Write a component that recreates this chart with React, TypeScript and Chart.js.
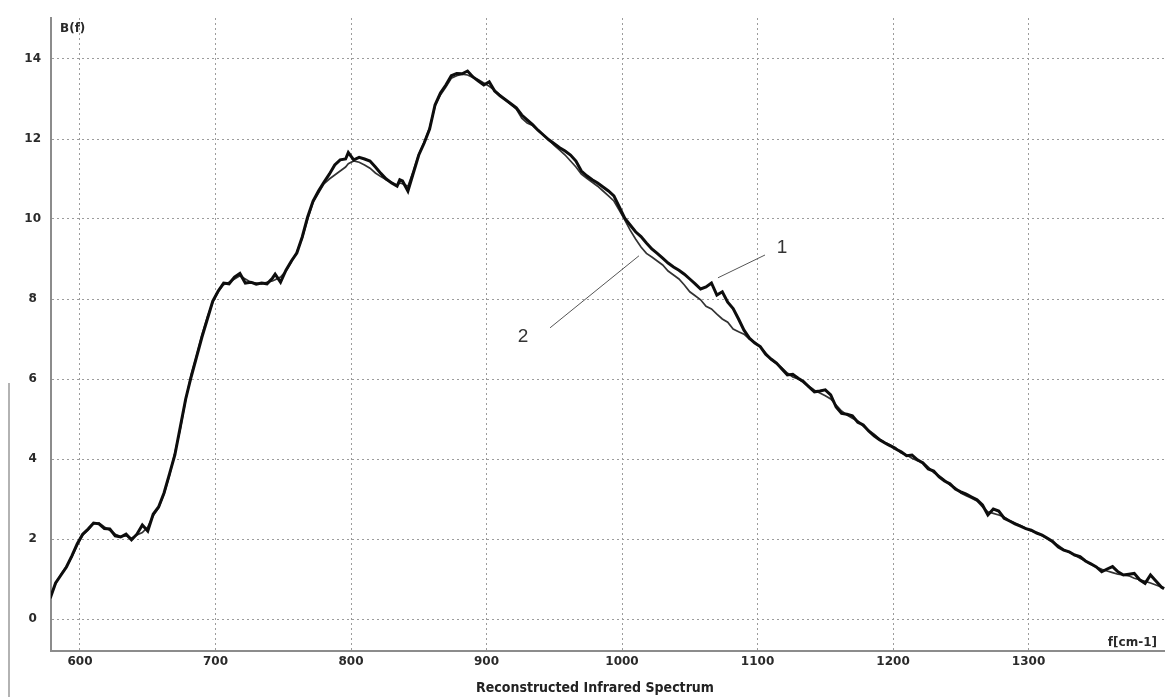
import React, { useEffect, useRef } from 'react';
import { Chart, registerables } from 'chart.js';

Chart.register(...registerables);

// wavenumber f [cm-1]
const wavenumbers = [
  578, 582, 586, 590, 594, 598, 602, 606, 610, 614, 618, 622, 626, 630, 634, 638, 642, 646, 650, 654,
  658, 662, 666, 670, 674, 678, 682, 686, 690, 694, 698, 702, 706, 710, 714, 718, 722, 726, 730, 734,
  738, 742, 744, 748, 752, 756, 760, 764, 768, 772, 776, 780, 784, 788, 792, 796, 798, 802, 806, 810,
  814, 818, 822, 826, 830, 834, 836, 838, 842, 846, 850, 854, 858, 862, 866, 870, 874, 878, 882, 886,
  890, 894, 898, 902, 906, 910, 914, 918, 922, 926, 930, 934, 938, 942, 946, 950, 954, 958, 962, 966,
  970, 974, 978, 982, 986, 990, 994, 998, 1002, 1006, 1010, 1014, 1018, 1022, 1026, 1030, 1034, 1038, 1042, 1046,
  1050, 1054, 1058, 1062, 1066, 1070, 1074, 1078, 1082, 1086, 1090, 1094, 1098, 1102, 1106, 1110, 1114, 1118, 1122, 1126,
  1130, 1134, 1138, 1142, 1146, 1150, 1154, 1158, 1162, 1166, 1170, 1174, 1178, 1182, 1186, 1190, 1194, 1198, 1202, 1206,
  1210, 1214, 1218, 1222, 1226, 1230, 1234, 1238, 1242, 1246, 1250, 1254, 1258, 1262, 1266, 1270, 1274, 1278, 1282, 1286,
  1290, 1294, 1298, 1302, 1306, 1310, 1314, 1318, 1322, 1326, 1330, 1334, 1338, 1342, 1346, 1350, 1354, 1358, 1362, 1366,
  1370, 1374, 1378, 1382, 1386, 1390, 1394, 1398, 1400,
];

// curve 1: measured spectrum B(f)
const measured = [
  0.52, 0.90, 1.10, 1.30, 1.58, 1.88, 2.12, 2.25, 2.40, 2.38, 2.26, 2.25, 2.08, 2.05, 2.12, 1.98, 2.12, 2.35, 2.20, 2.62,
  2.80, 3.15, 3.62, 4.10, 4.80, 5.50, 6.05, 6.55, 7.05, 7.50, 7.95, 8.20, 8.40, 8.38, 8.55, 8.64, 8.40, 8.42, 8.37, 8.40,
  8.38, 8.52, 8.62, 8.42, 8.72, 8.95, 9.15, 9.55, 10.05, 10.45, 10.70, 10.92, 11.12, 11.35, 11.48, 11.50, 11.66, 11.48, 11.54, 11.50,
  11.45, 11.30, 11.14, 11.00, 10.90, 10.82, 10.98, 10.95, 10.70, 11.15, 11.60, 11.90, 12.25, 12.85, 13.15, 13.35, 13.58, 13.64, 13.63, 13.70,
  13.55, 13.45, 13.35, 13.43, 13.20, 13.08, 12.98, 12.88, 12.78, 12.60, 12.48, 12.36, 12.22, 12.10, 11.98, 11.88, 11.78, 11.70, 11.60, 11.45,
  11.20, 11.08, 10.98, 10.90, 10.80, 10.70, 10.58, 10.30, 10.02, 9.85, 9.68, 9.56, 9.40, 9.25, 9.14, 9.02, 8.90, 8.80, 8.72, 8.62,
  8.50, 8.38, 8.25, 8.30, 8.40, 8.10, 8.18, 7.92, 7.76, 7.50, 7.22, 7.02, 6.90, 6.81, 6.62, 6.50, 6.40, 6.25, 6.10, 6.12,
  6.02, 5.93, 5.80, 5.68, 5.70, 5.73, 5.60, 5.30, 5.14, 5.12, 5.08, 4.92, 4.85, 4.70, 4.58, 4.48, 4.40, 4.33, 4.25, 4.18,
  4.08, 4.10, 3.98, 3.90, 3.75, 3.70, 3.55, 3.45, 3.38, 3.25, 3.18, 3.12, 3.05, 2.98, 2.85, 2.60, 2.75, 2.70, 2.52, 2.45,
  2.38, 2.32, 2.26, 2.22, 2.15, 2.10, 2.02, 1.93, 1.80, 1.72, 1.68, 1.60, 1.56, 1.45, 1.38, 1.30, 1.18, 1.25, 1.31, 1.18,
  1.10, 1.12, 1.14, 0.98, 0.89, 1.10, 0.95, 0.80, 0.76,
];

// curve 2: reconstructed spectrum
const reconstructed = [
  0.55, 0.88, 1.12, 1.32, 1.55, 1.85, 2.10, 2.22, 2.38, 2.40, 2.30, 2.22, 2.12, 2.06, 2.08, 2.02, 2.10, 2.16, 2.30, 2.58,
  2.78, 3.12, 3.58, 4.15, 4.75, 5.48, 6.10, 6.58, 7.10, 7.55, 7.92, 8.18, 8.36, 8.42, 8.50, 8.58, 8.50, 8.42, 8.40, 8.38,
  8.42, 8.45, 8.48, 8.55, 8.70, 8.92, 9.18, 9.52, 10.00, 10.42, 10.65, 10.88, 11.00, 11.10, 11.20, 11.30, 11.38, 11.45, 11.42, 11.35,
  11.27, 11.15, 11.06, 10.98, 10.92, 10.85, 10.90, 10.88, 10.82, 11.20, 11.62, 11.92, 12.28, 12.82, 13.10, 13.30, 13.52, 13.58, 13.62, 13.60,
  13.54, 13.48, 13.40, 13.32, 13.22, 13.10, 12.98, 12.86, 12.75, 12.52, 12.40, 12.34, 12.22, 12.10, 11.98, 11.84, 11.72, 11.60, 11.45, 11.30,
  11.12, 11.02, 10.92, 10.82, 10.70, 10.58, 10.45, 10.22, 9.98, 9.72, 9.50, 9.30, 9.14, 9.05, 8.95, 8.85, 8.70, 8.60, 8.50, 8.35,
  8.18, 8.08, 7.98, 7.82, 7.75, 7.62, 7.50, 7.42, 7.25, 7.18, 7.12, 7.00, 6.92, 6.80, 6.65, 6.48, 6.38, 6.28, 6.15, 6.05,
  6.00, 5.92, 5.82, 5.72, 5.65, 5.58, 5.50, 5.35, 5.20, 5.10, 5.02, 4.95, 4.82, 4.72, 4.62, 4.50, 4.42, 4.35, 4.28, 4.15,
  4.10, 4.02, 3.96, 3.92, 3.80, 3.66, 3.58, 3.48, 3.35, 3.28, 3.15, 3.08, 3.02, 2.95, 2.80, 2.68, 2.64, 2.60, 2.55, 2.46,
  2.40, 2.34, 2.27, 2.20, 2.16, 2.08, 2.00, 1.92, 1.84, 1.74, 1.66, 1.60, 1.52, 1.45, 1.36, 1.30, 1.24, 1.20, 1.16, 1.12,
  1.10, 1.08, 1.02, 0.98, 0.94, 0.90, 0.85, 0.80, 0.76,
];

const xTickValues = [600, 700, 800, 900, 1000, 1100, 1200, 1300];
const yTickValues = [0, 2, 4, 6, 8, 10, 12, 14];

const curveNames = ['1', '2'];
const chartTitle = 'Reconstructed Infrared Spectrum';

// annotation placement (data units): label position, leader line start and end
const curveLabelAt = [
  { x: 1118, y: 9.28 },
  { x: 927, y: 7.05 },
];
const leaderFrom = [
  { x: 1105.5, y: 9.1 },
  { x: 946.9, y: 7.28 },
];
const leaderTo = [
  { x: 1070.8, y: 8.53 },
  { x: 1012.5, y: 9.08 },
];

const TEXT = '#2a2a2a';
const BOLD12 = "bold 12px 'DejaVu Sans', sans-serif";

const overlayPlugin = {
  id: 'overlay',
  afterDatasetsDraw(chart: any) {
    const { ctx, chartArea, scales } = chart;
    const xs = scales.x;
    const ys = scales.y;
    ctx.save();
    // leader lines + curve numbers
    ctx.strokeStyle = '#555';
    ctx.lineWidth = 1;
    for (let i = 0; i < curveNames.length; i++) {
      ctx.beginPath();
      ctx.moveTo(xs.getPixelForValue(leaderFrom[i].x), ys.getPixelForValue(leaderFrom[i].y));
      ctx.lineTo(xs.getPixelForValue(leaderTo[i].x), ys.getPixelForValue(leaderTo[i].y));
      ctx.stroke();
      ctx.fillStyle = '#333';
      ctx.font = "19px 'Liberation Sans', Arial, sans-serif";
      ctx.textAlign = 'center';
      ctx.textBaseline = 'middle';
      ctx.fillText(
        curveNames[i],
        xs.getPixelForValue(curveLabelAt[i].x),
        ys.getPixelForValue(curveLabelAt[i].y)
      );
    }
    // axis names
    ctx.fillStyle = TEXT;
    ctx.font = BOLD12;
    ctx.textAlign = 'left';
    ctx.textBaseline = 'middle';
    ctx.fillText('B(f)', chartArea.left + 9, chartArea.top + 11);
    ctx.textAlign = 'right';
    ctx.fillText('f[cm-1]', chartArea.right - 8, chartArea.bottom - 8);
    // bottom caption
    ctx.fillStyle = '#222';
    ctx.font = "bold 14px 'DejaVu Sans Condensed', 'DejaVu Sans', sans-serif";
    ctx.textAlign = 'center';
    ctx.textBaseline = 'middle';
    ctx.fillText(chartTitle, (chartArea.left + chartArea.right) / 2 - 13, chart.height - 9);
    // stray frame line at the far left
    ctx.strokeStyle = '#9a9a9a';
    ctx.lineWidth = 1.5;
    ctx.beginPath();
    ctx.moveTo(9, 383);
    ctx.lineTo(9, chart.height);
    ctx.stroke();
    ctx.restore();
  },
};

const tickFont = { family: "'DejaVu Sans', sans-serif", size: 12, weight: 'bold' };

export default function App() {
  const canvasRef = useRef<HTMLCanvasElement | null>(null);

  useEffect(() => {
    document.body.style.margin = '0';
    const canvas = canvasRef.current;
    if (!canvas) return;
    const chart = new Chart(canvas, {
      type: 'line',
      data: {
        datasets: [
          {
            label: 'measured',
            data: wavenumbers.map((f, i) => ({ x: f, y: measured[i] })),
            borderColor: '#0d0d0d',
            borderWidth: 3,
            pointRadius: 0,
            tension: 0,
            fill: false,
          },
          {
            label: 'reconstructed',
            data: wavenumbers.map((f, i) => ({ x: f, y: reconstructed[i] })),
            borderColor: '#333333',
            borderWidth: 1.7,
            pointRadius: 0,
            tension: 0,
            fill: false,
          },
        ],
      },
      options: {
        animation: false,
        responsive: false,
        maintainAspectRatio: false,
        layout: { padding: { top: 18, right: 0, left: 0, bottom: 0 } },
        plugins: {
          legend: { display: false },
          tooltip: { enabled: false },
          title: { display: false },
        },
        scales: {
          x: {
            type: 'linear',
            min: 578.6,
            max: 1400.7,
            afterBuildTicks: (scale: any) => {
              scale.ticks = xTickValues.map((v) => ({ value: v }));
            },
            afterFit: (scale: any) => {
              scale.height = 46;
            },
            grid: {
              color: '#9c9c9c',
              lineWidth: 1,
              drawTicks: false,
            },
            border: { display: true, color: '#8c8c8c', width: 2, dash: [2, 3] },
            ticks: {
              color: TEXT,
              font: tickFont,
              padding: 4,
              maxRotation: 0,
              autoSkip: false,
              callback: (v: any) => String(v),
            },
            title: { display: false },
          },
          y: {
            type: 'linear',
            min: -0.8,
            max: 15.025,
            afterBuildTicks: (scale: any) => {
              scale.ticks = yTickValues.map((v) => ({ value: v }));
            },
            afterFit: (scale: any) => {
              scale.width = 51;
            },
            grid: {
              color: '#9c9c9c',
              lineWidth: 1,
              drawTicks: false,
            },
            border: { display: true, color: '#8c8c8c', width: 2, dash: [2, 3] },
            ticks: {
              color: TEXT,
              font: tickFont,
              padding: 10,
              crossAlign: 'center',
              autoSkip: false,
              callback: (v: any) => String(v),
            },
          },
        },
      } as any,
      plugins: [overlayPlugin],
    });
    return () => chart.destroy();
  }, []);

  return (
    <div style={{ width: 1165, height: 697, background: '#fff' }}>
      <canvas ref={canvasRef} width={1165} height={697} style={{ display: 'block' }} />
    </div>
  );
}
